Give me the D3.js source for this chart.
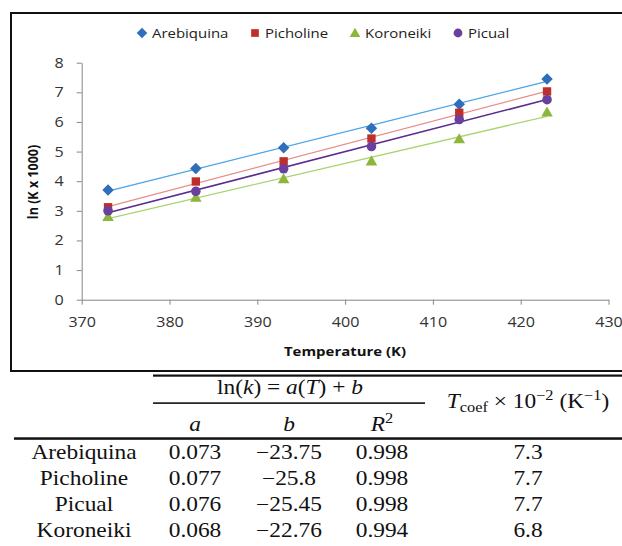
<!DOCTYPE html>
<html>
<head>
<meta charset="utf-8">
<script src="https://cdn.jsdelivr.net/npm/d3@7"></script>
<style>
  html, body { margin: 0; padding: 0; background: #fff; }
  svg { display: block; }
</style>
</head>
<body>
<svg id="chart" width="622" height="546"></svg>
<script>
// ---- data ----
const temperatures = [373, 383, 393, 403, 413, 423];
const seriesNames = ["Arebiquina", "Picholine", "Koroneiki", "Picual"];
const arebiquinaValues = [3.70, 4.43, 5.13, 5.79, 6.60, 7.45];
const picholineValues  = [3.12, 3.99, 4.67, 5.44, 6.31, 7.03];
const koroneikiValues  = [2.80, 3.45, 4.08, 4.68, 5.43, 6.33];
const picualValues     = [3.00, 3.66, 4.42, 5.17, 6.08, 6.75];
const xTickValues = [370, 380, 390, 400, 410, 420, 430];
const yTickValues = [0, 1, 2, 3, 4, 5, 6, 7, 8];
const xAxisTitle = "Temperature (K)";
const yAxisTitle = "ln (K x 1000)";

const tableNames = ["Arebiquina", "Picholine", "Picual", "Koroneiki"];
const coefA = ["0.073", "0.077", "0.076", "0.068"];
const coefB = ["\u221223.75", "\u221225.8", "\u221225.45", "\u221222.76"];
const rSquared = ["0.998", "0.998", "0.998", "0.994"];
const tCoef = ["7.3", "7.7", "7.7", "6.8"];

// ---- styles ----
const seriesValues = [arebiquinaValues, picholineValues, koroneikiValues, picualValues];
const markerColors = ["#2F6EBA", "#BE2F2B", "#8DB63C", "#6A3F9E"];
const lineColors   = ["#4BA3E3", "#E98D8A", "#A9D46F", "#5B2C8F"];
const lineWidths   = [1.3, 1.3, 1.3, 1.6];
const symbolTypes  = [d3.symbolSquare, d3.symbolSquare, d3.symbolTriangle, d3.symbolCircle];
const symbolSizes  = [66, 70, 58, 72];
const symbolRot    = [45, 0, 0, 0];

const SX = 1.15;   // horizontal text stretch of the original
const TSX = 1.17;

const svg = d3.select("#chart");
svg.append("rect").attr("width", 622).attr("height", 546).attr("fill", "#fff");

function stretch(sel, sx) {
  sel.each(function () {
    const t = d3.select(this);
    const x = +t.attr("x") || 0, y = +t.attr("y") || 0;
    t.attr("x", 0).attr("y", 0).attr("transform", `translate(${x},${y}) scale(${sx},1)`);
  });
}

// frame
svg.append("rect")
  .attr("x", 11).attr("y", 13).attr("width", 700).attr("height", 358)
  .attr("fill", "none").attr("stroke", "#111").attr("stroke-width", 2);

// scales
const x = d3.scaleLinear().domain([370, 430]).range([81.7, 608.5]);
const y = d3.scaleLinear().domain([0, 8]).range([299.7, 62.7]);

const axisColor = "#868686";
const xAxis = svg.append("g").attr("transform", `translate(0,${y(0)})`)
  .call(d3.axisBottom(x).tickValues(xTickValues).tickSize(5).tickSizeOuter(0).tickPadding(12).tickFormat(d3.format("d")));
const yAxis = svg.append("g").attr("transform", `translate(${x(370)},0)`)
  .call(d3.axisLeft(y).tickValues(yTickValues).tickSize(5).tickSizeOuter(0).tickPadding(13).tickFormat(d3.format("d")));
[xAxis, yAxis].forEach(g => {
  g.select(".domain").attr("stroke", axisColor);
  g.selectAll(".tick line").attr("stroke", axisColor);
  g.selectAll(".tick text").attr("fill", "#333").attr("font-family", "Open Sans").attr("font-size", 14);
  stretch(g.selectAll(".tick text"), SX);
});

// trend lines (least squares) and markers
seriesValues.forEach((vals, i) => {
  const n = vals.length;
  const mx = d3.mean(temperatures), my = d3.mean(vals);
  const slope = d3.sum(temperatures, (t, k) => (t - mx) * (vals[k] - my)) / d3.sum(temperatures, t => (t - mx) ** 2);
  const icpt = my - slope * mx;
  const ends = [temperatures[0], temperatures[n - 1]];
  svg.append("path")
    .datum(ends)
    .attr("d", d3.line().x(t => x(t)).y(t => y(slope * t + icpt)))
    .attr("fill", "none").attr("stroke", lineColors[i]).attr("stroke-width", lineWidths[i]);
});
seriesValues.forEach((vals, i) => {
  const sym = d3.symbol().type(symbolTypes[i]).size(symbolSizes[i]);
  svg.append("g").selectAll("path").data(vals).join("path")
    .attr("d", sym)
    .attr("transform", (v, k) => `translate(${x(temperatures[k])},${y(v) + (symbolTypes[i] === d3.symbolTriangle ? 1 : 0)}) rotate(${symbolRot[i]})`)
    .attr("fill", markerColors[i]);
});

// axis titles
const xt = svg.append("text").attr("x", 345).attr("y", 356).attr("text-anchor", "middle")
  .attr("font-family", "Open Sans").attr("font-weight", "bold").attr("font-size", 13).attr("fill", "#111")
  .text(xAxisTitle);
stretch(xt, SX);
svg.append("text").attr("transform", "translate(38,182) rotate(-90) scale(1,1.1)")
  .attr("text-anchor", "middle")
  .attr("font-family", "Open Sans").attr("font-weight", "bold").attr("font-size", 12.5).attr("fill", "#111")
  .text(yAxisTitle);

// legend
const legendX = [142, 255, 355, 458];
seriesNames.forEach((name, i) => {
  const sym = d3.symbol().type(symbolTypes[i]).size(symbolSizes[i] * 0.85);
  svg.append("path").attr("d", sym)
    .attr("transform", `translate(${legendX[i]},${33 + (symbolTypes[i] === d3.symbolTriangle ? 1 : 0)}) rotate(${symbolRot[i]})`)
    .attr("fill", markerColors[i]);
  const t = svg.append("text").attr("x", legendX[i] + 10).attr("y", 37.5)
    .attr("font-family", "Open Sans").attr("font-size", 13).attr("fill", "#222").text(name);
  stretch(t, SX);
});

// ---- table ----
const serif = "'Liberation Serif', 'Times New Roman', Times, serif";
svg.append("rect").attr("x", 153).attr("y", 374.5).attr("width", 470).attr("height", 2.2).attr("fill", "#111");
svg.append("rect").attr("x", 153).attr("y", 402.3).attr("width", 272).attr("height", 1.6).attr("fill", "#111");
svg.append("rect").attr("x", 14).attr("y", 437.3).attr("width", 610).attr("height", 2.5).attr("fill", "#111");

function tText(xp, yp, anchor) {
  return svg.append("text").attr("x", xp).attr("y", yp).attr("text-anchor", anchor || "middle")
    .style("font-family", serif).attr("font-size", 20).attr("fill", "#111");
}
// header: ln(k) = a(T) + b
const h1 = tText(290, 394);
[["ln(", false], ["k", true], [") = ", false], ["a", true], ["(", false], ["T", true], [") + ", false], ["b", true]]
  .forEach(([s, it]) => h1.append("tspan").attr("font-style", it ? "italic" : "normal").text(s));
stretch(h1, TSX);

// header: T_coef × 10^-2 (K^-1)
const h2 = tText(528, 408);
h2.append("tspan").attr("font-style", "italic").text("T");
h2.append("tspan").attr("font-size", 14).attr("dy", 4).text("coef");
h2.append("tspan").attr("dy", -4).text(" \u00d7 10");
h2.append("tspan").attr("font-size", 14).attr("dy", -8).text("\u22122");
h2.append("tspan").attr("dy", 8).text(" (K");
h2.append("tspan").attr("font-size", 14).attr("dy", -8).text("\u22121");
h2.append("tspan").attr("dy", 8).text(")");
stretch(h2, TSX);

const colX = [84, 195, 289, 382, 528];
const ha = tText(colX[1], 431).attr("font-style", "italic").text("a"); stretch(ha, TSX);
const hb = tText(colX[2], 431).attr("font-style", "italic").text("b"); stretch(hb, TSX);
const hr = tText(colX[3], 431);
hr.append("tspan").attr("font-style", "italic").text("R");
hr.append("tspan").attr("font-size", 14).attr("dy", -8).text("2");
stretch(hr, TSX);

const rowY = [459, 485, 511, 537];
const cols = [tableNames, coefA, coefB, rSquared, tCoef];
tableNames.forEach((_, r) => {
  cols.forEach((col, c) => {
    const t = tText(colX[c], rowY[r]).text(col[r]);
    stretch(t, TSX);
  });
});
</script>
</body>
</html>
